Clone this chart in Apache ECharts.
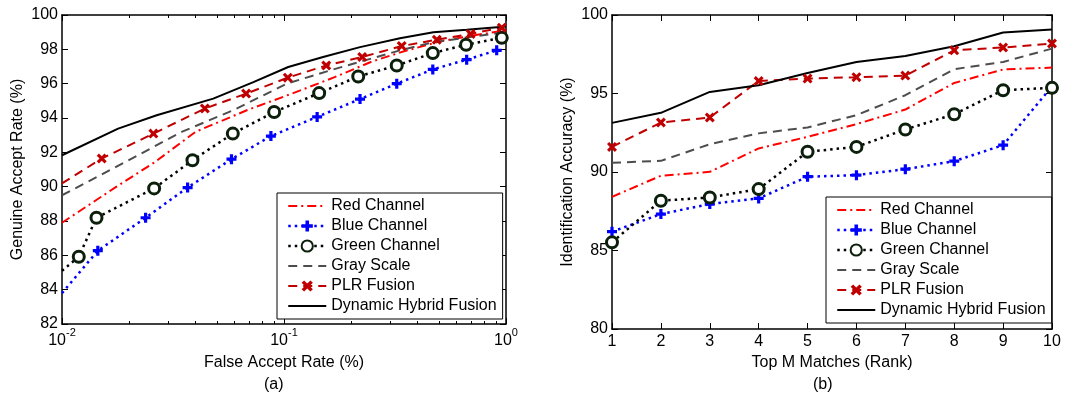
<!DOCTYPE html>
<html>
<head>
<meta charset="utf-8">
<script src="https://cdn.jsdelivr.net/npm/echarts@6/dist/echarts.min.js"></script>
<style>
  html, body { margin: 0; padding: 0; background: #fff; }
  #chart { width: 1082px; height: 398px; }
</style>
</head>
<body>
<div id="chart"></div>
<script>
const FONT = '"Liberation Sans", Arial, Helvetica, sans-serif';

const seriesNames = ['Red Channel', 'Blue Channel', 'Green Channel', 'Gray Scale', 'PLR Fusion', 'Dynamic Hybrid Fusion'];

// (a) FAR (%) vs GAR (%), each curve sampled at its own FAR points
const farRed   = [0.01, 0.0176, 0.026, 0.040, 0.068, 0.110, 0.167, 0.25, 0.35, 0.5, 0.7, 1.0];
const garRed   = [87.9, 90.0, 91.4, 93.2, 94.45, 95.45, 96.35, 97.3, 97.9, 98.45, 98.8, 99.1];
const farBlue  = [0.01, 0.0145, 0.0238, 0.0368, 0.058, 0.0873, 0.141, 0.22, 0.322, 0.468, 0.665, 0.908];
const garBlue  = [83.8, 86.27, 88.19, 89.95, 91.6, 92.95, 94.06, 95.1, 96.0, 96.83, 97.4, 97.94];
const farGreen = [0.01, 0.0119, 0.0143, 0.026, 0.0387, 0.0588, 0.0903, 0.144, 0.216, 0.322, 0.468, 0.661, 0.957];
const garGreen = [85.1, 85.92, 88.19, 89.9, 91.54, 93.09, 94.35, 95.45, 96.42, 97.06, 97.78, 98.27, 98.67];
const farGray  = [0.01, 0.017, 0.0346, 0.059, 0.103, 0.167, 0.333, 0.471, 1.0];
const garGray  = [89.5, 91.06, 93.19, 94.45, 96.0, 96.83, 97.94, 98.42, 99.0];
const farPlr   = [0.01, 0.0151, 0.0258, 0.044, 0.0675, 0.104, 0.155, 0.225, 0.339, 0.488, 0.693, 0.957];
const garPlr   = [90.19, 91.64, 93.09, 94.55, 95.42, 96.35, 97.06, 97.55, 98.19, 98.56, 98.9, 99.26];
const farDhf   = [0.01, 0.0179, 0.0267, 0.048, 0.0728, 0.1045, 0.15, 0.22, 0.333, 0.471, 0.665, 1.0];
const garDhf   = [91.83, 93.38, 94.16, 95.13, 96.09, 96.97, 97.55, 98.13, 98.65, 99.0, 99.14, 99.33];

const farMinorTicks = [0.02, 0.03, 0.04, 0.05, 0.06, 0.07, 0.08, 0.09, 0.2, 0.3, 0.4, 0.5, 0.6, 0.7, 0.8, 0.9];
const farTickExp = { '0.01': '-2', '0.1': '-1', '1': '0' };

// (b) rank vs identification accuracy (%)
const ranks    = [1, 2, 3, 4, 5, 6, 7, 8, 9, 10];
const accRed   = [88.42, 89.76, 90.01, 91.5, 92.24, 93.05, 93.98, 95.67, 96.53, 96.65];
const accBlue  = [86.2, 87.32, 87.96, 88.32, 89.7, 89.8, 90.18, 90.69, 91.71, 95.45];
const accGreen = [85.52, 88.17, 88.38, 88.91, 91.29, 91.6, 92.71, 93.68, 95.21, 95.36];
const accGray  = [90.59, 90.71, 91.77, 92.46, 92.84, 93.62, 94.89, 96.55, 97.01, 97.86];
const accPlr   = [91.6, 93.15, 93.47, 95.8, 95.95, 96.04, 96.14, 97.75, 97.93, 98.18];
const accDhf   = [93.13, 93.77, 95.1, 95.53, 96.31, 97.01, 97.39, 98.01, 98.88, 99.07];

const PLUS = 'path://M3.4,0H6.6V3.4H10V6.6H6.6V10H3.4V6.6H0V3.4H3.4Z';
const CROSS = 'path://M0,2.2L2.2,0L5,2.8L7.8,0L10,2.2L7.2,5L10,7.8L7.8,10L5,7.2L2.2,10L0,7.8L2.8,5Z';

const looks = {
  'Red Channel':           { color: '#ff0000', type: [9, 4, 2, 4], width: 2, symbol: 'none' },
  'Blue Channel':          { color: '#0000ff', type: [2.5, 4], width: 2.5, symbol: PLUS, size: 10, fill: '#0000ff' },
  'Green Channel':         { color: '#000000', type: [2.5, 4], width: 2.5, symbol: 'circle', size: 11, fill: '#ffffff', border: '#0b1f0b', bw: 3 },
  'Gray Scale':            { color: '#4d4d4d', type: [9, 6], width: 2, symbol: 'none' },
  'PLR Fusion':            { color: '#c00000', type: [9, 6], width: 2, symbol: CROSS, size: 10, fill: '#c00000' },
  'Dynamic Hybrid Fusion': { color: '#000000', type: 'solid', width: 2, symbol: 'none' }
};

function makeSeries(name, data, xi, yi) {
  const lk = looks[name];
  const s = {
    name: name, type: 'line', xAxisIndex: xi, yAxisIndex: yi, data: data,
    symbol: lk.symbol, symbolSize: lk.size || 0, showAllSymbol: true,
    lineStyle: { color: lk.color, width: lk.width, type: lk.type, cap: 'butt' },
    itemStyle: { color: lk.fill || lk.color },
    color: lk.fill || lk.color,
    emphasis: { disabled: true }
  };
  if (lk.border) {
    s.itemStyle.borderColor = lk.border;
    s.itemStyle.borderWidth = lk.bw;
  }
  return s;
}

// first point sits on the left frame, where no marker is shown
function farPairs(xs, ys) {
  return xs.map((x, i) => i === 0 ? { value: [x, ys[i]], symbol: 'none' } : [x, ys[i]]);
}
function rankPairs(ys) {
  return ranks.map((r, i) => [r, ys[i]]);
}

const tickStyle = { fontSize: 16, color: '#000', fontFamily: FONT };
const frameLine = { show: true, lineStyle: { color: '#000', width: 1.5 } };

function frameAxis(extra) {
  return Object.assign({
    axisLine: frameLine,
    axisTick: { show: true, inside: true, length: 6, lineStyle: { color: '#000', width: 1 } },
    splitLine: { show: false },
    axisLabel: { show: false }
  }, extra);
}

// minor log ticks drawn on a linear axis in log10 space, laid over the log axis
function minorLogAxis(pos) {
  return {
    gridIndex: 1, type: 'value', min: -2, max: 0, position: pos,
    axisLine: { show: false }, splitLine: { show: false }, axisLabel: { show: false },
    axisTick: {
      show: true, inside: true, length: 3,
      customValues: farMinorTicks.map(v => Math.log10(v)),
      lineStyle: { color: '#000', width: 1 }
    }
  };
}

function legendAt(left, top) {
  return {
    data: seriesNames.map(n => {
      const lk = looks[n];
      const item = { name: n, lineStyle: { width: lk.width, type: lk.type, color: lk.color } };
      if (lk.symbol === 'none') item.itemStyle = { opacity: 0 };
      return item;
    }),
    orient: 'vertical', left: left, top: top,
    itemWidth: 38, itemHeight: 14, itemGap: 4,
    padding: [5, 6, 5, 10],
    backgroundColor: '#fff', borderColor: '#000', borderWidth: 1, borderRadius: 0,
    textStyle: { fontSize: 16, color: '#000', fontFamily: FONT },
    selectedMode: false
  };
}

const logLabel = {
  show: true, margin: 3,
  formatter: v => '{b|10}{s|' + (farTickExp[String(+v.toPrecision(3))] || Math.round(Math.log10(v))) + '}',
  rich: {
    b: { fontSize: 16, fontFamily: FONT, color: '#000', lineHeight: 22, verticalAlign: 'bottom' },
    s: { fontSize: 11, fontFamily: FONT, color: '#000', verticalAlign: 'top' }
  }
};

const chart = echarts.init(document.getElementById('chart'));

chart.setOption({
  animation: false,
  backgroundColor: '#fff',
  textStyle: { fontFamily: FONT },
  title: [
    { text: '(a)', left: 264, top: 377, padding: 0, textStyle: { fontSize: 16, fontWeight: 'normal', color: '#000', fontFamily: FONT } },
    { text: '(b)', left: 813, top: 377, padding: 0, textStyle: { fontSize: 16, fontWeight: 'normal', color: '#000', fontFamily: FONT } }
  ],
  grid: [
    { left: 62, top: 15, width: 444, height: 309 },
    { left: 62, top: 15, width: 444, height: 309 },
    { left: 612, top: 15, width: 440, height: 314 }
  ],
  legend: [legendAt(277, 193), legendAt(826, 197)],
  xAxis: [
    frameAxis({
      gridIndex: 0, type: 'log', logBase: 10, min: 0.01, max: 1, position: 'bottom',
      axisLabel: logLabel,
      name: 'False Accept Rate (%)', nameLocation: 'middle', nameGap: 31,
      nameTextStyle: tickStyle
    }),
    frameAxis({ gridIndex: 0, type: 'log', logBase: 10, min: 0.01, max: 1, position: 'top' }),
    minorLogAxis('bottom'),
    minorLogAxis('top'),
    frameAxis({
      gridIndex: 2, type: 'value', min: 1, max: 10, interval: 1, position: 'bottom',
      axisLabel: Object.assign({ show: true, margin: 5 }, tickStyle),
      name: 'Top M Matches (Rank)', nameLocation: 'middle', nameGap: 26,
      nameTextStyle: tickStyle
    }),
    frameAxis({ gridIndex: 2, type: 'value', min: 1, max: 10, interval: 1, position: 'top' })
  ],
  yAxis: [
    frameAxis({
      gridIndex: 0, type: 'value', min: 82, max: 100, interval: 2, position: 'left',
      axisLabel: Object.assign({ show: true, margin: 4 }, tickStyle),
      name: 'Genuine Accept Rate (%)', nameLocation: 'middle', nameGap: 36,
      nameTextStyle: tickStyle
    }),
    frameAxis({ gridIndex: 0, type: 'value', min: 82, max: 100, interval: 2, position: 'right' }),
    { gridIndex: 1, type: 'value', min: 82, max: 100, show: false },
    frameAxis({
      gridIndex: 2, type: 'value', min: 80, max: 100, interval: 5, position: 'left',
      axisLabel: Object.assign({ show: true, margin: 4 }, tickStyle),
      name: 'Identification Accuracy (%)', nameLocation: 'middle', nameGap: 36,
      nameTextStyle: tickStyle
    }),
    frameAxis({ gridIndex: 2, type: 'value', min: 80, max: 100, interval: 5, position: 'right' })
  ],
  series: [
    makeSeries('Red Channel', farPairs(farRed, garRed), 0, 0),
    makeSeries('Blue Channel', farPairs(farBlue, garBlue), 0, 0),
    makeSeries('Green Channel', farPairs(farGreen, garGreen), 0, 0),
    makeSeries('Gray Scale', farPairs(farGray, garGray), 0, 0),
    makeSeries('PLR Fusion', farPairs(farPlr, garPlr), 0, 0),
    makeSeries('Dynamic Hybrid Fusion', farPairs(farDhf, garDhf), 0, 0),
    makeSeries('Red Channel', rankPairs(accRed), 4, 3),
    makeSeries('Blue Channel', rankPairs(accBlue), 4, 3),
    makeSeries('Green Channel', rankPairs(accGreen), 4, 3),
    makeSeries('Gray Scale', rankPairs(accGray), 4, 3),
    makeSeries('PLR Fusion', rankPairs(accPlr), 4, 3),
    makeSeries('Dynamic Hybrid Fusion', rankPairs(accDhf), 4, 3)
  ]
});
</script>
</body>
</html>
